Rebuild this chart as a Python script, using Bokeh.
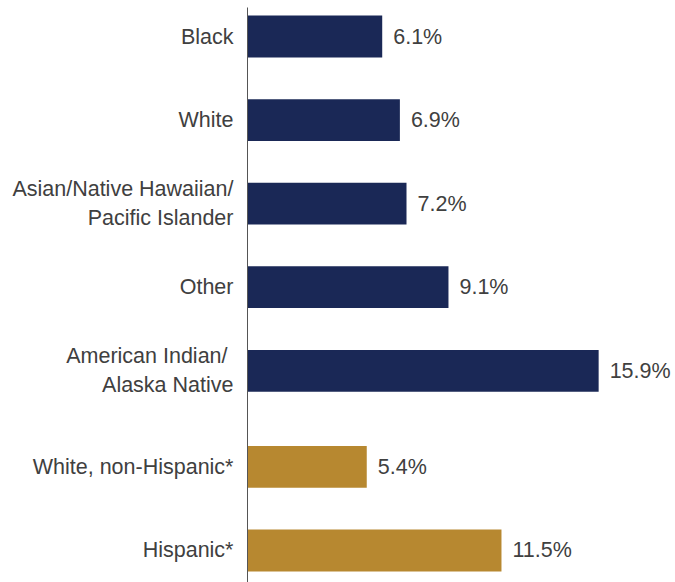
from bokeh.plotting import figure
from bokeh.models import ColumnDataSource, Range1d, LinearAxis, FixedTicker
from bokeh.core.properties import value
from bokeh.embed import file_html
from bokeh.resources import INLINE

categories = [
    "Black",
    "White",
    "Asian/Native Hawaiian/\nPacific Islander",
    "Other",
    "American  Indian/\nAlaska Native",
    "White, non-Hispanic*",
    "Hispanic*",
]
groups = ["race", "race", "race", "race", "race", "ethnicity", "ethnicity"]
values = [6.1, 6.9, 7.2, 9.1, 15.9, 5.4, 11.5]
value_labels = ["6.1%", "6.9%", "7.2%", "9.1%", "15.9%", "5.4%", "11.5%"]

group_colors = {"race": "#1a2856", "ethnicity": "#b78830"}
group_gap = 0.15

positions = []
offset = 0.0
prev = None
for i, g in enumerate(groups):
    if prev is not None and g != prev:
        offset += group_gap
    positions.append(i + offset)
    prev = g

colors = [group_colors[g] for g in groups]

source = ColumnDataSource(dict(
    y=positions, v=values, lab=value_labels, color=colors,
))

p = figure(
    width=675, height=582,
    x_range=Range1d(0, 19.38),
    y_range=Range1d(positions[-1] + 0.383, -0.347),
    x_axis_type=None, y_axis_type=None,
    output_backend="svg", toolbar_location=None,
    min_border_left=247, min_border_right=0,
    min_border_top=7, min_border_bottom=0,
)
p.outline_line_color = None
p.grid.visible = False

p.hbar(y="y", left=0, right="v", height=0.5, fill_color="color",
       line_color=None, source=source)

p.text(x="v", y="y", text="lab", source=source, x_offset=11,
       text_baseline="middle", text_align="left",
       text_font=value("Liberation Sans"), text_font_size="21.5px",
       text_color="#404040")

yaxis = LinearAxis(
    ticker=FixedTicker(ticks=positions),
    major_label_overrides={pos: lab for pos, lab in zip(positions, categories)},
)
yaxis.major_tick_line_color = None
yaxis.minor_tick_line_color = None
yaxis.major_tick_out = 0
yaxis.major_label_standoff = 14
yaxis.axis_line_color = "#555555"
yaxis.axis_line_width = 1
yaxis.major_label_text_font = "Liberation Sans"
yaxis.major_label_text_font_size = "21.5px"
yaxis.major_label_text_color = "#404040"
p.add_layout(yaxis, "left")

open("out.html", "w").write(file_html(p, INLINE))
